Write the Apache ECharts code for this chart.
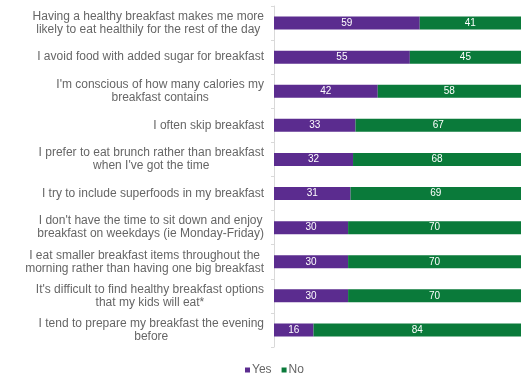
<!DOCTYPE html>
<html><head><meta charset="utf-8">
<script src="https://cdn.jsdelivr.net/npm/echarts@6/dist/echarts.min.js"></script>
<style>html,body{margin:0;padding:0;background:#fff}#c{width:528px;height:381px}</style>
</head><body><div id="c"></div>
<script>
const categories = [
  "Having a healthy breakfast makes me more\nlikely to eat healthily for the rest of the day",
  "I avoid food with added sugar for breakfast",
  "I'm conscious of how many calories my\nbreakfast contains",
  "I often skip breakfast",
  "I prefer to eat brunch rather than breakfast\nwhen I've got the time",
  "I try to include superfoods in my breakfast",
  "I don't have the time to sit down and enjoy\nbreakfast on weekdays (ie Monday-Friday)",
  "I eat smaller breakfast items throughout the\nmorning rather than having one big breakfast",
  "It's difficult to find healthy breakfast options\nthat my kids will eat*",
  "I tend to prepare my breakfast the evening\nbefore"
];
const yesValues = [59, 55, 42, 33, 32, 31, 30, 30, 30, 16];
const noValues  = [41, 45, 58, 67, 68, 69, 70, 70, 70, 84];

const chart = echarts.init(document.getElementById('c'), null, {renderer: 'canvas'});
const font = '"Liberation Sans", Arial, sans-serif';
const barLabel = {show: true, position: 'inside', color: '#ffffff', fontSize: 10, fontFamily: font};
chart.setOption({
  animation: false,
  textStyle: {fontFamily: font},
  grid: {left: 274, right: 7, top: 6, bottom: 34, containLabel: false},
  xAxis: {type: 'value', min: 0, max: 100, show: false},
  yAxis: {
    type: 'category', data: categories, inverse: true,
    axisLine: {show: true, lineStyle: {color: '#d9d9d9'}},
    axisTick: {show: true, length: 3, lineStyle: {color: '#d9d9d9'}},
    axisLabel: {
      margin: 10, color: '#666666', fontSize: 12, lineHeight: 13, fontFamily: font,
      formatter: v => v.split('\n').map(s => '{c|' + s + '}').join('\n'),
      rich: {c: {align: 'center', fontSize: 12, lineHeight: 13, color: '#666666', fontFamily: font}}
    }
  },
  legend: {
    top: 359, left: 240, itemWidth: 5, itemHeight: 5, itemGap: 10,
    icon: 'rect',
    textStyle: {color: '#666666', fontSize: 12, fontFamily: font, padding: [0, 0, 0, -3]},
    data: ['Yes', 'No']
  },
  series: [
    {name: 'Yes', type: 'bar', stack: 't', data: yesValues, barWidth: 13,
     itemStyle: {color: '#5b2c8f'}, label: barLabel},
    {name: 'No', type: 'bar', stack: 't', data: noValues, barWidth: 13,
     itemStyle: {color: '#0a7a3a'}, label: barLabel}
  ]
});
</script></body></html>
